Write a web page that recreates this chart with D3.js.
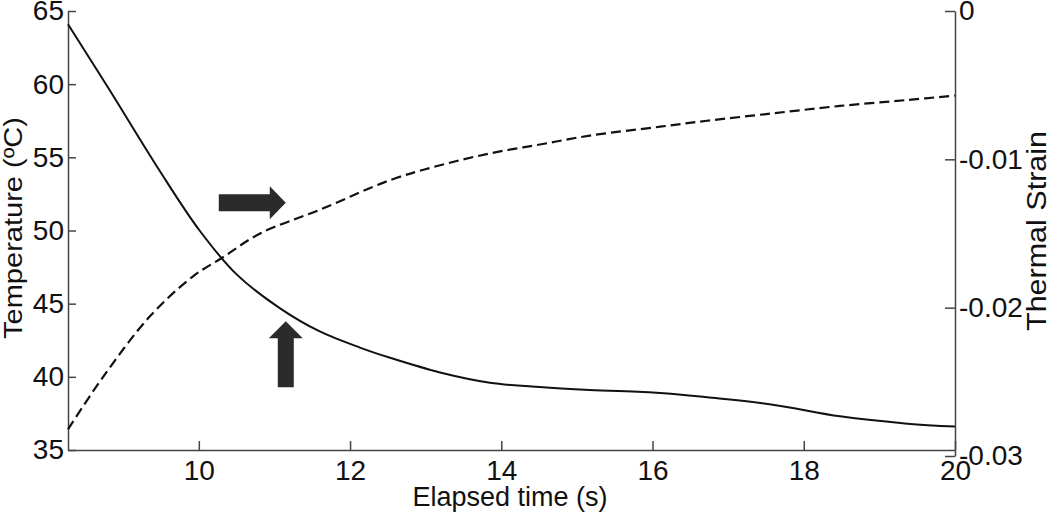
<!DOCTYPE html>
<html>
<head>
<meta charset="utf-8">
<script src="https://cdn.jsdelivr.net/npm/d3@7"></script>
<style>
  body { margin: 0; background: #fff; }
  text { font-family: Arial, "Liberation Sans", sans-serif; fill: #111; }
</style>
</head>
<body>
<div id="chart"></div>
<script>
// elapsed time (s) for each curve
var tempTime    = [8.27, 8.82, 9.48, 10.01, 10.5, 11.07, 11.6, 12.13, 12.53, 13.19, 13.85, 14.51, 15.17, 16.1, 16.72, 17.59, 18.48, 19.37, 20]
var temperature = [64.1, 59.6, 54.1, 50.0, 47.0, 44.7, 43.1, 42.0, 41.3, 40.3, 39.6, 39.3, 39.1, 38.9, 38.6, 38.1, 37.3, 36.8, 36.6]

var strainTime = [8.27, 8.73, 9.35, 9.92, 10.32, 10.81, 11.6, 12.53, 13.19, 13.85, 14.51, 15.17, 16.1, 16.72, 17.59, 18.48, 19.37, 20]
var strain     = [-0.0282, -0.0247, -0.0206, -0.0179, -0.0166, -0.0150, -0.0134, -0.0114, -0.0104, -0.0096, -0.0090, -0.0084, -0.0078, -0.0074, -0.0069, -0.0064, -0.0060, -0.0057]

var xTicks = [10, 12, 14, 16, 18, 20]
var tempTicks = [35, 40, 45, 50, 55, 60, 65]
var strainTicks = [0, -0.01, -0.02, -0.03]

// arrow tips in data units (time, temperature)
var arrowRight = [11.15, 51.9]
var arrowUp = [11.15, 43.8]

var width = 1050, height = 515

var svg = d3.select("#chart")
    .append("svg")
    .attr("width", width)
    .attr("height", height)

var x = d3.scaleLinear().domain([8.27, 20]).range([68, 955])
var yT = d3.scaleLinear().domain([35, 65]).range([450, 11])
var yS = d3.scaleLinear().domain([-0.03, 0]).range([456, 11])

function fmtStrain(d) {
    if (d === 0) return "0"
    return "-" + Math.abs(d).toFixed(2)
}

// axes
svg.append("g")
    .attr("transform", "translate(0,450)")
    .call(d3.axisBottom(x).tickValues(xTicks).tickSize(-9).tickSizeOuter(0).tickPadding(10))
svg.append("g")
    .attr("transform", "translate(68,0)")
    .call(d3.axisLeft(yT).tickValues(tempTicks).tickSize(-8).tickSizeOuter(0).tickPadding(4))
svg.append("g")
    .attr("transform", "translate(955,0)")
    .call(d3.axisRight(yS).tickValues(strainTicks).tickFormat(fmtStrain).tickSize(-10).tickSizeOuter(0).tickPadding(4))

svg.selectAll(".domain, .tick line")
    .attr("stroke", "#444")
    .attr("stroke-width", 1.5)
svg.selectAll(".tick text")
    .attr("font-size", 28)
    .attr("font-family", "Arial, 'Liberation Sans', sans-serif")
    .attr("fill", "#111")

// curves
var tempData = tempTime.map(function(t, i) { return [t, temperature[i]] })
var strainData = strainTime.map(function(t, i) { return [t, strain[i]] })

svg.append("path")
    .datum(tempData)
    .attr("fill", "none")
    .attr("stroke", "#111")
    .attr("stroke-width", 2)
    .attr("d", d3.line()
        .x(function(d) { return x(d[0]) })
        .y(function(d) { return yT(d[1]) })
        .curve(d3.curveCatmullRom.alpha(0.5)))

svg.append("path")
    .datum(strainData)
    .attr("fill", "none")
    .attr("stroke", "#111")
    .attr("stroke-width", 2.2)
    .attr("stroke-dasharray", "10,5")
    .attr("d", d3.line()
        .x(function(d) { return x(d[0]) })
        .y(function(d) { return yS(d[1]) })
        .curve(d3.curveCatmullRom.alpha(0.5)))

// arrows
var ax = x(arrowRight[0]), ay = yT(arrowRight[1])
svg.append("path")
    .attr("fill", "#2b2b2b")
    .attr("d", "M" + ax + "," + ay +
        "L" + (ax - 16) + "," + (ay - 16.5) +
        "L" + (ax - 16) + "," + (ay - 8.5) +
        "L" + (ax - 67) + "," + (ay - 8.5) +
        "L" + (ax - 67) + "," + (ay + 8.5) +
        "L" + (ax - 16) + "," + (ay + 8.5) +
        "L" + (ax - 16) + "," + (ay + 16.5) + "Z")

var ux = x(arrowUp[0]), uy = yT(arrowUp[1])
svg.append("path")
    .attr("fill", "#2b2b2b")
    .attr("d", "M" + ux + "," + uy +
        "L" + (ux + 17) + "," + (uy + 17) +
        "L" + (ux + 8) + "," + (uy + 17) +
        "L" + (ux + 8) + "," + (uy + 66) +
        "L" + (ux - 8) + "," + (uy + 66) +
        "L" + (ux - 8) + "," + (uy + 17) +
        "L" + (ux - 17) + "," + (uy + 17) + "Z")

// axis titles
svg.append("text")
    .attr("x", 510)
    .attr("y", 506)
    .attr("text-anchor", "middle")
    .attr("font-size", 27)
    .text("Elapsed time (s)")

svg.append("text")
    .attr("transform", "translate(22,228) rotate(-90)")
    .attr("text-anchor", "middle")
    .attr("font-size", 25)
    .attr("textLength", 222)
    .attr("lengthAdjust", "spacingAndGlyphs")
    .text("Temperature (\u00baC)")

svg.append("text")
    .attr("transform", "translate(1046,231) rotate(-90)")
    .attr("text-anchor", "middle")
    .attr("font-size", 27)
    .attr("textLength", 200)
    .attr("lengthAdjust", "spacingAndGlyphs")
    .text("Thermal Strain")
</script>
</body>
</html>
